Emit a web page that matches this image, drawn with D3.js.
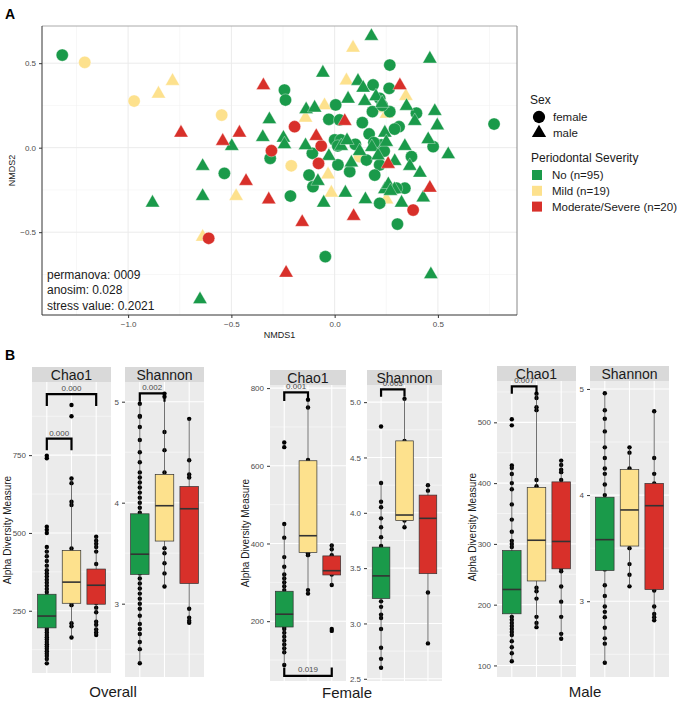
<!DOCTYPE html>
<html><head><meta charset="utf-8">
<script src="https://cdn.jsdelivr.net/npm/d3@7"></script>
<style>body{margin:0;background:#fff;} text{font-family:"Liberation Sans", Arial, Helvetica, sans-serif;}</style>
</head><body><svg id="c" width="690" height="703"></svg>
<script>
// ---------------- DATA ----------------
const severities = ["No (n=95)", "Mild (n=19)", "Moderate/Severe (n=20)"];
const sexes = ["female", "male"];
const sevColors = ["#1a9a4a", "#fde18d", "#d8302a"];

// Panel A: NMDS coordinates [NMDS1, NMDS2]
const noFemale = [[-1.319,0.548],[0.772,0.14],[0.267,0.489],[-0.243,0.341],[-0.238,0.282],[0.005,0.253],[0.186,0.371],[0.264,0.351],[0.218,0.292],[0.183,0.213],[0.267,0.213],[0.230,0.250],[-0.028,0.168],[0.024,0.164],[0.134,0.148],[0.167,0.081],[0.312,0.124],[0.290,0.110],[0.000,0.046],[0.030,0.046],[0.015,0.010],[0.396,0.204],[0.477,0.006],[0.227,0.016],[0.190,0.030],[0.240,-0.020],[0.372,-0.053],[0.154,-0.073],[0.218,-0.102],[0.016,-0.102],[0.073,-0.142],[0.194,-0.162],[-0.124,-0.162],[-0.105,-0.231],[-0.214,-0.286],[-0.534,-0.152],[-0.312,-0.063],[-0.108,-0.033],[0.340,-0.240],[0.218,-0.329],[0.304,-0.452],[-0.045,-0.645],[0.300,-0.240],[0.100,0.020]];
const noMale = [[0.178,0.657],[0.461,0.523],[-0.057,0.440],[0.113,0.391],[0.138,0.351],[0.065,0.286],[0.146,0.272],[0.200,0.300],[0.230,0.260],[-0.138,0.223],[-0.097,0.233],[0.485,0.213],[0.348,0.243],[0.388,0.154],[0.497,0.128],[-0.316,0.164],[-0.348,0.059],[-0.248,0.055],[-0.243,0.016],[-0.498,0.006],[-0.141,0.010],[0.032,0.006],[-0.028,-0.053],[0.081,-0.092],[0.243,0.085],[0.250,0.030],[0.340,0.006],[0.453,0.046],[0.550,-0.043],[0.121,-0.024],[0.291,-0.083],[0.364,-0.112],[0.413,-0.152],[-0.639,-0.112],[-0.081,-0.201],[0.243,-0.250],[0.260,-0.220],[0.290,-0.250],[0.270,-0.260],[0.052,-0.270],[0.149,-0.309],[0.429,-0.299],[0.324,-0.329],[-0.053,-0.329],[-0.639,-0.290],[-0.882,-0.329],[0.466,-0.753],[-0.652,-0.901],[0.180,0.000],[0.210,-0.050],[0.060,0.040]];
const mildFemale = [[-1.210,0.505],[-0.971,0.276],[-0.547,0.193],[-0.210,-0.107],[0.121,-0.053]];
const mildMale = [[0.089,0.588],[-0.785,0.391],[-0.853,0.316],[0.057,0.394],[0.345,0.302],[-0.049,0.247],[-0.141,0.174],[0.251,0.197],[-0.477,-0.290],[-0.032,-0.162],[-0.016,-0.270],[0.251,-0.310],[-0.639,-0.531],[0.230,0.230]];
const modFemale = [[-0.194,0.124],[-0.306,-0.018],[-0.065,0.010],[-0.078,-0.093],[-0.610,-0.536],[0.380,-0.369]];
const modMale = [[-0.345,0.365],[0.316,0.365],[-0.744,0.085],[-0.461,0.085],[-0.542,0.036],[0.049,0.154],[-0.089,0.065],[-0.429,-0.201],[-0.319,-0.310],[0.461,-0.241],[0.092,-0.408],[-0.157,-0.444],[-0.235,-0.744],[0.259,-0.100]];
const nmdsTicks = [-1.0, -0.5, 0.0, 0.5];
const statsText = ["permanova: 0009", "anosim: 0.028", "stress value: 0.2021"];

// Panel B: box stats [lowWhisker, Q1, median, Q3, highWhisker] per severity
const groups = ["Overall", "Female", "Male"];
const metrics = ["Chao1", "Shannon"];
const overallChao1Stats = [[81,195,233,303,455],[164,274,342,444,675],[172,271,332,384,488]];
const overallChao1Dots = [[81,95,105,112,120,128,135,142,150,158,165,172,180,188,195,200,205,210,215,220,225,230,235,240,245,250,255,262,270,278,285,292,300,310,320,330,340,350,360,370,380,395,410,425,440,455,500,510,520,740,748],[164,200,210,268,275,300,330,350,400,440,450,590,600,660,675,875,911],[172,180,190,205,215,245,260,275,300,330,360,400,440,455,465,475,488]];
const overallShannonStats = [[2.41,3.29,3.49,3.89,4.98],[3.17,3.62,3.97,4.28,5.08],[2.81,3.20,3.94,4.16,4.83]];
const overallShannonDots = [[2.41,2.55,2.62,2.7,2.75,2.8,2.88,2.95,3.0,3.05,3.1,3.15,3.2,3.25,3.3,3.35,3.4,3.45,3.5,3.55,3.6,3.65,3.7,3.75,3.8,3.85,3.9,3.95,4.0,4.05,4.1,4.15,4.2,4.25,4.3,4.4,4.5,4.62,4.75,4.85,4.86,4.98],[3.17,3.3,3.4,3.5,3.55,3.7,3.95,4.3,4.52,4.7,5.05,5.08],[2.81,2.83,2.86,2.95,3.94,4.25,4.28,4.42,4.83]];
const femaleChao1Stats = [[87,185,218,277,450],[271,377,420,613,769],[293,319,330,368,398]];
const femaleChao1Dots = [[87,120,130,140,150,160,170,180,185,190,200,210,220,230,240,250,260,270,280,290,300,310,320,340,365,415,450,648,660],[271,280,370,375,420,615,750,770],[175,180,293,320,330,370,385,395]];
const femaleShannonStats = [[2.60,3.226,3.43,3.69,4.29],[3.87,3.93,3.98,4.65,5.03],[2.82,3.45,3.95,4.16,4.27]];
const femaleShannonDots = [[2.60,2.68,2.78,2.95,3.05,3.08,3.15,3.2,3.25,3.3,3.35,3.4,3.5,3.55,3.6,3.7,3.78,3.87,3.95,4.05,4.1,4.27,4.78],[3.87,3.93,3.98,4.65,5.03],[2.82,3.28,4.2,4.25]];
const maleChao1Stats = [[107,185,225,289,429],[163,239,306,393,547],[144,259,304,402,437]];
const maleChao1Dots = [[107,120,130,140,150,155,160,165,170,175,180,190,200,210,225,240,255,270,285,295,300,305,320,340,365,390,400,415,425,429,495,505],[163,170,180,210,222,228,395,405,520,525,540,547],[144,152,180,205,230,255,260,405,418,422,430,437]];
const maleShannonStats = [[2.42,3.29,3.58,3.98,4.96],[3.14,3.52,3.86,4.24,4.45],[2.82,3.11,3.90,4.11,4.79]];
const maleShannonDots = [[2.42,2.6,2.65,2.75,2.85,2.9,2.95,3.05,3.15,3.3,3.5,3.6,3.7,3.8,3.9,4.0,4.1,4.2,4.25,4.35,4.45,4.6,4.72,4.8,4.96],[3.14,3.25,3.35,3.5,4.25,4.4,4.45],[2.82,2.85,2.88,2.95,3.1,4.11,4.2,4.35,4.79]];
// significance brackets: [fromIdx, toIdx, barValue, legValue, label]
const overallChao1Sig = [[0,1,803,766,"0.000"],[0,2,946,908,"0.000"]];
const overallShannonSig = [[0,1,5.083,5.0,"0.002"]];
const femaleChao1Sig = [[0,1,789,767,"0.001"],[0,2,59,81,"0.019"]];
const femaleShannonSig = [[0,1,5.116,5.049,"0.003"]];
const maleChao1Sig = [[0,1,559,547,"0.007"]];
const maleShannonSig = [];

// ---------------- DRAW ----------------
const svg = d3.select("#c");

// ===== Panel A =====
svg.append("text").attr("x",5).attr("y",19).attr("font-size",14).attr("font-weight","bold").text("A");
const A = {l:42, t:26, r:517, b:315};
const xA = d3.scaleLinear().domain([-1.417, 0.883]).range([A.l, A.r]);
const yA = d3.scaleLinear().domain([-0.990, 0.72]).range([A.b, A.t]);
const gA = svg.append("g");
gA.append("rect").attr("x",A.l).attr("y",A.t).attr("width",A.r-A.l).attr("height",A.b-A.t).attr("fill","#fff");
const minorX = [-1.25,-0.75,-0.25,0.25,0.75], minorY = [-0.75,-0.25,0.25];
gA.selectAll(".mx").data(minorX).join("line").attr("x1",d=>xA(d)).attr("x2",d=>xA(d)).attr("y1",A.t).attr("y2",A.b).attr("stroke","#f2f2f2").attr("stroke-width",0.6);
gA.selectAll(".my").data(minorY).join("line").attr("y1",d=>yA(d)).attr("y2",d=>yA(d)).attr("x1",A.l).attr("x2",A.r).attr("stroke","#f2f2f2").attr("stroke-width",0.6);
gA.selectAll(".gx").data(nmdsTicks).join("line").attr("x1",d=>xA(d)).attr("x2",d=>xA(d)).attr("y1",A.t).attr("y2",A.b).attr("stroke","#ebebeb").attr("stroke-width",1);
gA.selectAll(".gy").data([-0.5,0,0.5]).join("line").attr("y1",d=>yA(d)).attr("y2",d=>yA(d)).attr("x1",A.l).attr("x2",A.r).attr("stroke","#ebebeb").attr("stroke-width",1);

const circ = d3.symbol().type(d3.symbolCircle).size(118);
const tri = d3.symbol().type(d3.symbolTriangle).size(88);
function drawPts(arr, color, isMale){
  gA.append("g").selectAll("path").data(arr).join("path")
    .attr("d", isMale ? tri : circ)
    .attr("transform", d=>`translate(${xA(d[0])},${yA(d[1]) + (isMale?-0.5:0)})`)
    .attr("fill", color).attr("stroke","#ffffff").attr("stroke-width",0.5).attr("stroke-opacity",0.7);
}
drawPts(mildFemale, sevColors[1], false);
drawPts(mildMale, sevColors[1], true);
drawPts(noFemale, sevColors[0], false);
drawPts(noMale, sevColors[0], true);
drawPts(modFemale, sevColors[2], false);
drawPts(modMale, sevColors[2], true);

// border
gA.append("line").attr("x1",A.l).attr("x2",A.r).attr("y1",A.t).attr("y2",A.t).attr("stroke","#aaa").attr("stroke-width",1);
gA.append("line").attr("x1",A.r).attr("x2",A.r).attr("y1",A.t).attr("y2",A.b).attr("stroke","#888").attr("stroke-width",1);
gA.append("line").attr("x1",A.l).attr("x2",A.r).attr("y1",A.b).attr("y2",A.b).attr("stroke","#333").attr("stroke-width",1);
gA.append("line").attr("x1",A.l).attr("x2",A.l).attr("y1",A.t).attr("y2",A.b).attr("stroke","#333").attr("stroke-width",1);

const axAx = gA.append("g").attr("transform",`translate(0,${A.b})`).call(d3.axisBottom(xA).tickValues(nmdsTicks).tickSize(3).tickFormat(d3.format(".1f")));
const axAy = gA.append("g").attr("transform",`translate(${A.l},0)`).call(d3.axisLeft(yA).tickValues([-0.5,0,0.5]).tickSize(3).tickFormat(d3.format(".1f")));
[axAx, axAy].forEach(a=>{a.select(".domain").remove(); a.selectAll("line").attr("stroke","#333"); a.selectAll("text").attr("font-size",8).attr("fill","#4d4d4d").attr("font-family","Liberation Sans, Arial, sans-serif");});
axAx.selectAll("text").text(d=>d3.format(".1f")(d).replace("-","\u2212"));
axAy.selectAll("text").text(d=>d3.format(".1f")(d).replace("-","\u2212"));
gA.append("text").attr("x",(A.l+A.r)/2).attr("y",338).attr("text-anchor","middle").attr("font-size",9).attr("fill","#1a1a1a").text("NMDS1");
gA.append("text").attr("transform",`translate(15,${(A.t+A.b)/2}) rotate(-90)`).attr("text-anchor","middle").attr("font-size",9).attr("fill","#1a1a1a").text("NMDS2");
statsText.forEach((t,i)=>gA.append("text").attr("x",47).attr("y",279+i*15.3).attr("font-size",12).attr("fill","#1a1a1a").text(t));

// Legends
const lg = svg.append("g");
lg.append("text").attr("x",530).attr("y",104).attr("font-size",12).attr("fill","#1a1a1a").text("Sex");
sexes.forEach((s,i)=>{
  const cy = 117 + i*16;
  lg.append("path").attr("d", i===0 ? circ : tri).attr("transform",`translate(539,${cy})`).attr("fill","#000");
  lg.append("text").attr("x",553).attr("y",cy+4).attr("font-size",11.5).attr("fill","#1a1a1a").text(s);
});
lg.append("text").attr("x",531).attr("y",162).attr("font-size",12).attr("fill","#1a1a1a").text("Periodontal Severity");
severities.forEach((s,i)=>{
  const cy = 175 + i*15.8;
  lg.append("rect").attr("x",532).attr("y",cy-5).attr("width",10).attr("height",10).attr("fill",sevColors[i]);
  lg.append("text").attr("x",552).attr("y",cy+4).attr("font-size",11.5).attr("fill","#1a1a1a").text(s);
});

// ===== Panel B =====
svg.append("text").attr("x",5).attr("y",360).attr("font-size",14).attr("font-weight","bold").text("B");

function facet(cfg){
  const g = svg.append("g");
  const y = d3.scaleLinear().domain(cfg.dom).range([cfg.y1, cfg.y0]);
  const x = d3.scalePoint().domain(severities).range([cfg.x0, cfg.x1]).padding(0.6);
  const step = x.step();
  g.append("rect").attr("x",cfg.x0).attr("y",cfg.y0).attr("width",cfg.x1-cfg.x0).attr("height",cfg.y1-cfg.y0).attr("fill","#ebebeb");
  g.append("rect").attr("x",cfg.x0).attr("y",cfg.st).attr("width",cfg.x1-cfg.x0).attr("height",cfg.y0-cfg.st).attr("fill","#d9d9d9");
  g.append("text").attr("x",(cfg.x0+cfg.x1)/2).attr("y",(cfg.st+cfg.y0)/2+5).attr("text-anchor","middle").attr("font-size",14).attr("fill","#1a1a1a").text(cfg.title);
  g.selectAll(".mn").data(cfg.minor).join("line").attr("x1",cfg.x0).attr("x2",cfg.x1).attr("y1",d=>y(d)).attr("y2",d=>y(d)).attr("stroke","#fff").attr("stroke-width",0.5);
  g.selectAll(".mj").data(cfg.ticks).join("line").attr("x1",cfg.x0).attr("x2",cfg.x1).attr("y1",d=>y(d)).attr("y2",d=>y(d)).attr("stroke","#fff").attr("stroke-width",1.1);
  g.selectAll(".vx").data(severities).join("line").attr("x1",d=>x(d)).attr("x2",d=>x(d)).attr("y1",cfg.y0).attr("y2",cfg.y1).attr("stroke","#fff").attr("stroke-width",1.1);
  const ax = g.append("g").attr("transform",`translate(${cfg.x0},0)`).call(d3.axisLeft(y).tickValues(cfg.ticks).tickSize(3).tickFormat(cfg.fmt));
  ax.select(".domain").remove();
  ax.selectAll("line").attr("stroke","#333");
  ax.selectAll("text").attr("font-size",8).attr("fill","#4d4d4d").attr("font-family","Liberation Sans, Arial, sans-serif");
  const bw = step*0.75;
  severities.forEach((s,i)=>{
    const cx = x(s), st = cfg.stats[i];
    g.append("g").selectAll("circle").data(cfg.dots[i]).join("circle").attr("cx",cx).attr("cy",d=>y(d)).attr("r",2.2).attr("fill","#000");
    g.append("line").attr("x1",cx).attr("x2",cx).attr("y1",y(st[0])).attr("y2",y(st[4])).attr("stroke","#333").attr("stroke-width",0.7);
    g.append("rect").attr("x",cx-bw/2).attr("width",bw).attr("y",y(st[3])).attr("height",y(st[1])-y(st[3])).attr("fill",sevColors[i]).attr("stroke","#333").attr("stroke-width",0.7);
    g.append("line").attr("x1",cx-bw/2).attr("x2",cx+bw/2).attr("y1",y(st[2])).attr("y2",y(st[2])).attr("stroke","#333").attr("stroke-width",1.6);
  });
  cfg.sig.forEach(b=>{
    const xa = x(severities[b[0]]), xb = x(severities[b[1]]);
    const yb = y(b[2]), yl = y(b[3]);
    g.append("path").attr("d",`M${xa},${yl}V${yb}H${xb}V${yl}`).attr("fill","none").attr("stroke","#000").attr("stroke-width",2.2);
    const up = yb < yl;
    g.append("text").attr("x",(xa+xb)/2).attr("y", up ? yb-3 : yb-4).attr("text-anchor","middle").attr("font-size",8).attr("fill","#4d4d4d").text(b[4]);
  });
}
const intF = d3.format("d"), oneF = d3.format(".1f");
facet({title:metrics[0], x0:32, x1:111, y0:382, y1:673, st:367, dom:[50,985], ticks:[250,500,750], minor:[125,375,625,875], fmt:intF, stats:overallChao1Stats, dots:overallChao1Dots, sig:overallChao1Sig});
facet({title:metrics[1], x0:125, x1:204, y0:382, y1:677, st:367, dom:[2.274,5.195], ticks:[3,4,5], minor:[2.5,3.5,4.5], fmt:intF, stats:overallShannonStats, dots:overallShannonDots, sig:overallShannonSig});
facet({title:metrics[0], x0:270, x1:346, y0:385, y1:681, st:370, dom:[46,808], ticks:[200,400,600,800], minor:[100,300,500,700], fmt:intF, stats:femaleChao1Stats, dots:femaleChao1Dots, sig:femaleChao1Sig});
facet({title:metrics[1], x0:367, x1:442, y0:385, y1:681, st:370, dom:[2.48,5.155], ticks:[2.5,3.0,3.5,4.0,4.5,5.0], minor:[2.75,3.25,3.75,4.25,4.75], fmt:oneF, stats:femaleShannonStats, dots:femaleShannonDots, sig:femaleShannonSig});
facet({title:metrics[0], x0:497, x1:576, y0:381, y1:677, st:366, dom:[81,568], ticks:[100,200,300,400,500], minor:[150,250,350,450,550], fmt:intF, stats:maleChao1Stats, dots:maleChao1Dots, sig:maleChao1Sig});
facet({title:metrics[1], x0:590, x1:669, y0:381, y1:677, st:366, dom:[2.286,5.075], ticks:[3,4,5], minor:[2.5,3.5,4.5], fmt:intF, stats:maleShannonStats, dots:maleShannonDots, sig:maleShannonSig});

// group labels
const groupPos = [[113,697,7,530],[347,698,245,533],[585,697,472,527]];
groups.forEach((gname,i)=>{
  const p = groupPos[i];
  svg.append("text").attr("x",p[0]).attr("y",p[1]).attr("text-anchor","middle").attr("font-size",15).attr("fill","#1a1a1a").text(gname);
  svg.append("text").attr("transform",`translate(${p[2]+4},${p[3]}) rotate(-90)`).attr("text-anchor","middle").attr("font-size",10).attr("fill","#1a1a1a").text("Alpha Diversity Measure");
});
</script></body></html>
